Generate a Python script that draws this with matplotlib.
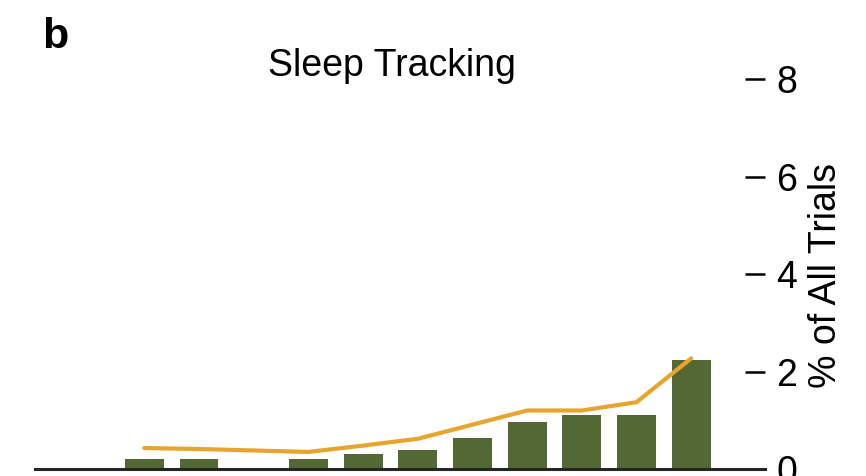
import numpy as np
import matplotlib
matplotlib.use("Agg")
import matplotlib.pyplot as plt

plt.rcParams['font.family'] = ['Liberation Sans', 'DejaVu Sans']

# Category slots along the x axis (first two bins are empty)
positions = list(range(13))
# Share of all trials per bin (bars)
bar_values = [0, 0, 0.20, 0.20, 0.0, 0.20, 0.30, 0.40, 0.63, 0.97, 1.10, 1.10, 2.24]
# Comparison series (line); no data in the first two bins
line_values = [np.nan, np.nan, 0.43, 0.41, 0.38, 0.35, 0.48, 0.62, 0.91, 1.20, 1.20, 1.37, 2.27]
y_ticks = [0, 2, 4, 6, 8]

bar_color = '#546834'
line_color = '#E8A52D'

W, H = 866, 476
fig = plt.figure(figsize=(W / 100, H / 100), dpi=100)
ax = fig.add_axes([35 / W, 1 - 469 / H, 730 / W, 390 / H])

ax.bar(positions, bar_values, width=0.71, color=bar_color, zorder=2)
ax.plot(positions, line_values, color=line_color, lw=3.0,
        solid_capstyle='round', solid_joinstyle='round', zorder=3)

ax.set_xlim(0, 13.35)
ax.set_ylim(0, 8)

for side in ('left', 'top', 'right'):
    ax.spines[side].set_visible(False)
ax.spines['bottom'].set_linewidth(2.2)
ax.spines['bottom'].set_color('#262626')
ax.spines['bottom'].set_zorder(4)

ax.set_xticks([])
ax.yaxis.tick_right()
ax.set_yticks(y_ticks)
ax.set_yticklabels([str(t) for t in y_ticks])
ax.tick_params(axis='y', direction='in', length=14.4, width=1.8,
               pad=8, labelsize=27, colors='black')

fig.text(392 / W, 1 - 76 / H, 'Sleep Tracking', ha='center', va='baseline',
         fontsize=27)
fig.text(826 / W, 1 - 276 / H, '% of All Trials', rotation=90,
         ha='center', va='center', fontsize=27)
fig.text(42 / W, 1 - 48 / H, 'b', ha='left', va='baseline',
         fontsize=31, fontweight='bold')

fig.savefig('out.png', dpi=100)
